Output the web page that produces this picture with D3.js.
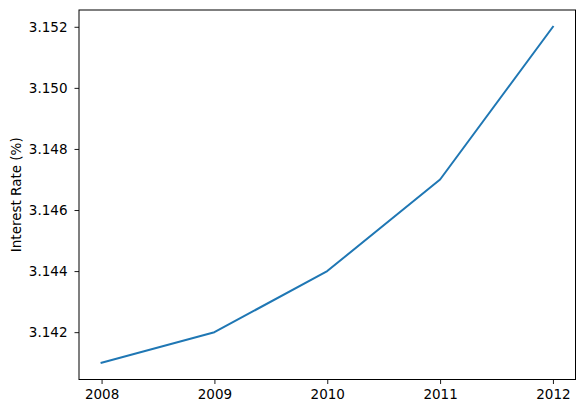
<!DOCTYPE html>
<html><head><meta charset="utf-8">
<script src="https://cdn.jsdelivr.net/npm/d3@7/dist/d3.min.js"></script>
<style>body{margin:0;background:#fff}svg{display:block}</style>
</head><body>
<script>
const years = [2008, 2009, 2010, 2011, 2012];
const rates = [3.141, 3.142, 3.144, 3.147, 3.152];
const yTicks = [3.142, 3.144, 3.146, 3.148, 3.150, 3.152];
const yLabel = "Interest Rate (%)";

const W = 584, H = 413;
const L = 79, R = 575.5, T = 10, B = 379.5;
const svg = d3.select("body").append("svg").attr("width", W).attr("height", H);

const xPad = (d3.max(years) - d3.min(years)) * 0.05;
const x = d3.scaleLinear().domain([d3.min(years) - xPad, d3.max(years) + xPad]).range([L, R]);
const yPad = (d3.max(rates) - d3.min(rates)) * 0.05;
const y = d3.scaleLinear().domain([d3.min(rates) - yPad, d3.max(rates) + yPad]).range([B, T]);

const font = "DejaVu Sans, sans-serif";
const fs = "13.5px";

const xAxis = svg.append("g").attr("transform", `translate(0,${B})`)
  .call(d3.axisBottom(x).tickValues(years).tickFormat(d3.format("d")).tickSize(4.5).tickPadding(5));
const yAxis = svg.append("g").attr("transform", `translate(${L},0)`)
  .call(d3.axisLeft(y).tickValues(yTicks).tickFormat(d3.format(".3f")).tickSize(4.5).tickPadding(7));
[xAxis, yAxis].forEach(g => {
  g.select(".domain").remove();
  g.selectAll("line").attr("stroke", "#000").attr("stroke-width", 0.9);
  g.selectAll("text").attr("fill", "#000").style("font-family", font).style("font-size", fs);
});

svg.append("path").datum(years.map((d, i) => [d, rates[i]]))
  .attr("fill", "none").attr("stroke", "#1f77b4").attr("stroke-width", 2)
  .attr("stroke-linejoin", "round").attr("stroke-linecap", "square")
  .attr("d", d3.line().x(d => x(d[0])).y(d => y(d[1])));

svg.append("rect").attr("x", L).attr("y", T).attr("width", R - L).attr("height", B - T)
  .attr("fill", "none").attr("stroke", "#000").attr("stroke-width", 1);

svg.append("text").attr("transform", `translate(21,${(T + B) / 2}) rotate(-90)`)
  .attr("text-anchor", "middle").style("font-family", font).style("font-size", fs)
  .text(yLabel);
</script>
</body></html>
